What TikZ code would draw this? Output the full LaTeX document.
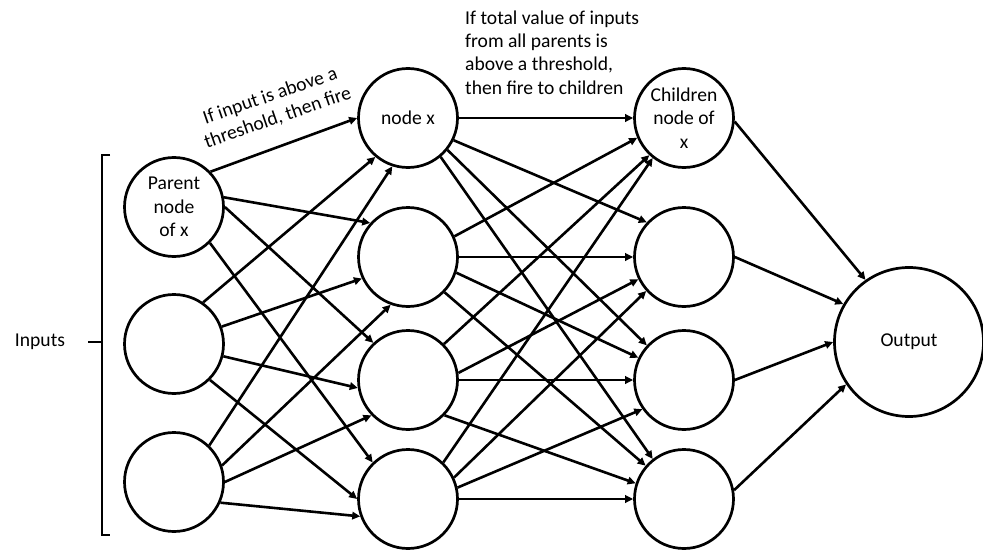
\documentclass[tikz,border=0pt]{standalone}
\usepackage{fontspec}
\setmainfont{Carlito}
\usetikzlibrary{arrows.meta}
\begin{document}
\begin{tikzpicture}[x=1pt,y=-1pt,
  txt/.style={font=\fontsize{19.6}{23.3}\selectfont},
  neuron/.style={circle,draw,line width=2.7pt,minimum size=99pt,inner sep=0pt,align=center,txt},
  conn/.style={line width=2.6pt,-{Triangle[length=8pt,width=7.5pt]}},
  brk/.style={line width=1.7pt}]
\useasboundingbox (0,0) rectangle (983,551);
% input layer
\node[neuron] (I1) at (174,207) {Parent\\node\\of x};
\node[neuron] (I2) at (174,344) {};
\node[neuron] (I3) at (174,482) {};
% hidden layer
\node[neuron] (H1) at (408,118) {node x};
\node[neuron] (H2) at (408,257) {};
\node[neuron] (H3) at (408,380) {};
\node[neuron] (H4) at (408,499) {};
% third layer
\node[neuron] (L1) at (684,118) {Children\\node of\\x};
\node[neuron] (L2) at (684,257) {};
\node[neuron] (L3) at (684,380) {};
\node[neuron] (L4) at (684,499) {};
% output
\node[neuron,minimum size=149pt] (O) at (909,342) {Output};
% inputs bracket
\coordinate (bt) at (110,155);
\coordinate (bT) at (102,155);
\coordinate (bB) at (102,535);
\coordinate (bb) at (110,535);
\coordinate (bm) at (102,342);
\coordinate (bl) at (88,342);
\draw[brk] (bt) -- (bT) -- (bB) -- (bb);
\draw[brk] (bl) -- (bm);
\node[txt,inner sep=0pt] (inp) at (40,342) {Inputs};
% labels
\node[txt,inner sep=0pt,align=center,rotate=19] (lab1) at (274,107) {If input is above a\\threshold, then fire};
\node[txt,inner sep=0pt,align=left,anchor=north west] (lab2) at (465,10.5) {If total value of inputs\\from all parents is\\above a threshold,\\then fire to children};
% input -> hidden
\draw[conn] (I1.44) -- (H1.180);
\draw[conn] (I1.11) -- (H2.138);
\draw[conn] (I1.0) -- (H3.133);
\draw[conn] (I1.-45) -- (H4.134);
\draw[conn] (I2.55) -- (H1.230);
\draw[conn] (I2.20) -- (H2.205);
\draw[conn] (I2.-14) -- (H3.189);
\draw[conn] (I2.-45) -- (H4.180);
\draw[conn] (I3.46) -- (H1.252);
\draw[conn] (I3.19) -- (H2.250);
\draw[conn] (I3.0) -- (H3.224);
\draw[conn] (I3.-24) -- (H4.200);
% hidden -> third
\draw[conn] (H1.0) -- (L1.180);
\draw[conn] (H1.-26) -- (L2.137);
\draw[conn] (H1.-39) -- (L3.137);
\draw[conn] (H1.-50) -- (L4.128);
\draw[conn] (H2.24) -- (L1.203);
\draw[conn] (H2.0) -- (L2.180);
\draw[conn] (H2.-18) -- (L3.154);
\draw[conn] (H2.-44) -- (L4.139);
\draw[conn] (H3.45) -- (L1.227);
\draw[conn] (H3.8) -- (L2.206);
\draw[conn] (H3.0) -- (L3.180);
\draw[conn] (H3.-44) -- (L4.162);
\draw[conn] (H4.46) -- (L1.232);
\draw[conn] (H4.25) -- (L2.222);
\draw[conn] (H4.13) -- (L3.215);
\draw[conn] (H4.0) -- (L4.180);
% third -> output
\draw[conn] (L1.-4) -- (O.125);
\draw[conn] (L2.0) -- (O.150);
\draw[conn] (L3.0) -- (O.180);
\draw[conn] (L4.10) -- (O.214);
\end{tikzpicture}
\end{document}
